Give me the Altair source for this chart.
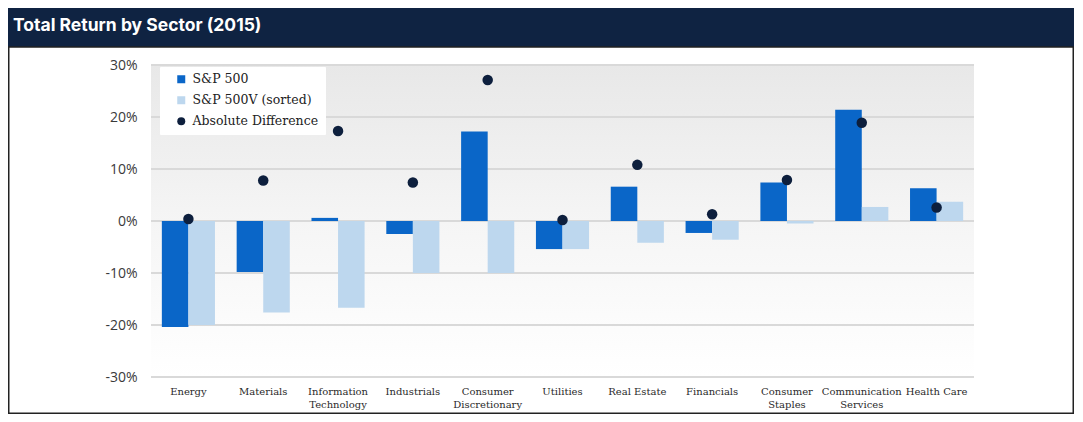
import altair as alt
import pandas as pd

title_text = "Total Return by Sector (2015)"
sectors = ["Energy", "Materials", "Information|Technology", "Industrials",
           "Consumer|Discretionary", "Utilities", "Real Estate", "Financials",
           "Consumer|Staples", "Communication|Services", "Health Care"]
sp500 = [-20.4, -9.8, 0.6, -2.5, 17.2, -5.4, 6.6, -2.3, 7.4, 21.4, 6.3]
sp500v = [-20.0, -17.6, -16.7, -10.0, -10.0, -5.4, -4.2, -3.6, -0.5, 2.7, 3.7]
abs_diff = [0.4, 7.8, 17.3, 7.4, 27.1, 0.2, 10.8, 1.3, 7.9, 18.9, 2.6]
y_ticks = [-30, -20, -10, 0, 10, 20, 30]

series_names = ["S&P 500", "S&P 500V (sorted)", "Absolute Difference"]
series_colors = ["#0a66c8", "#bdd7ee", "#0d1f3d"]
series_shapes = ["square", "square", "circle"]

bars_df = pd.DataFrame({
    "sector": sectors * 2,
    "series": [series_names[0]] * len(sectors) + [series_names[1]] * len(sectors),
    "value": sp500 + sp500v,
})
pts_df = pd.DataFrame({"sector": sectors, "series": series_names[2], "value": abs_diff})
ticks_df = pd.DataFrame({"v": y_ticks})
one = pd.DataFrame({"t": [title_text]})

W, H = 823, 312
PAD_L, PAD_T, PAD_R, PAD_B = 143, 57, 100, 37

x_scale = alt.Scale(domain=sectors, paddingInner=0.29, paddingOuter=0.145)
y_scale = alt.Scale(domain=[-30, 30], nice=False)
color_scale = alt.Scale(domain=series_names, range=series_colors)
shape_scale = alt.Scale(domain=series_names, range=series_shapes)

y_axis = alt.Axis(values=y_ticks, labelExpr="datum.value + '%'", domain=False, ticks=False,
                  grid=False, labelFont="Open Sans", labelFontSize=14, labelColor="#3a3a3a",
                  labelPadding=14, title=None)
x_axis = alt.Axis(labelAngle=0, domain=False, ticks=False, grid=False,
                  labelFont="DejaVu Serif", labelFontSize=10, labelColor="#2a2a2a",
                  labelPadding=9, labelLineHeight=13, labelExpr="split(datum.label, '|')",
                  title=None)
legend = alt.Legend(title=None)

X = alt.X("sector:N", scale=x_scale, sort=sectors, axis=x_axis)

# decorative card: navy title banner and thin outer frame
banner = alt.Chart(one).mark_rect(color="#0f2342", clip=False).encode(
    x=alt.value(-PAD_L), x2=alt.value(W + PAD_R), y=alt.value(-PAD_T), y2=alt.value(-18))
title = alt.Chart(one).mark_text(align="left", baseline="alphabetic", font="Inter", fontSize=17.5,
                                 fontWeight=700, color="white", clip=False).encode(
    text="t:N", x=alt.value(-PAD_L + 5), y=alt.value(-PAD_T + 23))
frame = alt.Chart(one).mark_rect(fillOpacity=0, stroke="#222222", strokeWidth=1.5, clip=False).encode(
    x=alt.value(-PAD_L + 0.75), x2=alt.value(W + PAD_R - 0.75),
    y=alt.value(-18), y2=alt.value(H + PAD_B - 0.75))

bg = alt.Chart(one).mark_rect(
    color=alt.Gradient(
        gradient="linear",
        stops=[alt.GradientStop(color="#e8e8e8", offset=0),
               alt.GradientStop(color="#f5f5f5", offset=0.5),
               alt.GradientStop(color="#ffffff", offset=1)],
        x1=0, x2=0, y1=0, y2=1)
).encode(x=alt.value(0), x2=alt.value("width"), y=alt.value(0), y2=alt.value("height"))

grid = alt.Chart(ticks_df).mark_rule(color="#d9d9d9", strokeWidth=2).encode(
    y=alt.Y("v:Q", scale=y_scale, axis=y_axis),
    x=alt.value(0), x2=alt.value("width"))

bars = alt.Chart(bars_df).mark_bar().encode(
    x=X,
    xOffset=alt.XOffset("series:N", scale=alt.Scale(domain=series_names[:2], paddingInner=0, paddingOuter=0)),
    y=alt.Y("value:Q", scale=y_scale, axis=y_axis),
    color=alt.Color("series:N", scale=color_scale, legend=legend),
)

pts = alt.Chart(pts_df).mark_point(filled=True, opacity=1, size=110).encode(
    x=X,
    y=alt.Y("value:Q", scale=y_scale, axis=y_axis),
    color=alt.Color("series:N", scale=color_scale, legend=legend),
    shape=alt.Shape("series:N", scale=shape_scale, legend=legend),
)

chart = alt.layer(banner, title, frame, bg, grid, bars, pts).properties(
    width=W, height=H,
    autosize=alt.AutoSizeParams(type="none"),
    padding={"left": PAD_L, "top": PAD_T, "right": PAD_R, "bottom": PAD_B},
    background="white",
).configure_view(stroke=None).configure_legend(
    orient="none", legendX=9, legendY=2, fillColor="white", padding=6, symbolOffset=9,
    labelFont="DejaVu Serif", labelFontSize=12.5, labelColor="#222222", rowPadding=8,
    symbolSize=64, labelOffset=5, symbolStrokeWidth=0, strokeColor="white"
)

chart.save("out.html", embed_options={"renderer": "svg", "actions": False})
